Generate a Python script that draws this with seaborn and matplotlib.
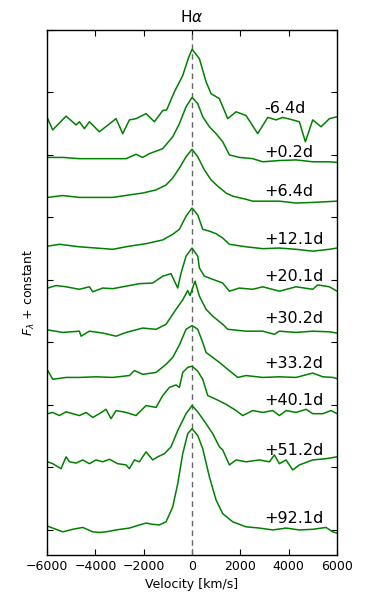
import numpy as np
import pandas as pd
import matplotlib
matplotlib.use("Agg")
import matplotlib.pyplot as plt
import seaborn as sns

# epochs (days) and vertical offsets of each spectrum
epochs = ["-6.4d", "+0.2d", "+6.4d", "+12.1d", "+20.1d", "+30.2d", "+33.2d", "+40.1d", "+51.2d", "+92.1d"]
offsets = [6.56, 5.94, 5.32, 4.54, 3.87, 3.18, 2.45, 1.86, 1.09, 0.03]
label_y = [6.74, 6.04, 5.41, 4.65, 4.06, 3.38, 2.66, 2.07, 1.27, 0.18]

# H-alpha profiles, velocity [km/s] and normalised flux above continuum
v_m64 = [-5975, -5770, -5216, -4800, -4664, -4457, -4250, -3836, -3146, -2870, -2594, -2318, -1904, -1559,
         -1214, -1050, -731, -386, -150, 0, 304, 580, 787, 1132, 1477, 1822, 2236, 2719, 3133, 3478, 3754,
         4168, 4444, 4692, 4996, 5341, 5686, 6000]
f_m64 = [0.02, -0.16, 0.06, -0.08, -0.03, -0.14, -0.03, -0.19, 0.02, -0.22, 0.0, 0.02, 0.10, -0.03,
         0.15, 0.16, 0.45, 0.71, 0.99, 1.13, 0.98, 0.61, 0.42, 0.34, 0.02, 0.13, 0.07, -0.22, 0.04, 0.0, 0.04,
         0.0, -0.03, -0.35, 0.0, -0.11, 0.02, 0.05]

v_p02 = [-5975, -5350, -4664, -3974, -3284, -2732, -2318, -2042, -1766, -1214, -800, -524, -248, 0, 235,
         442, 718, 994, 1270, 1546, 1960, 2512, 2926, 3616, 4306, 4996, 5686, 6000]
f_p02 = [0.02, 0.02, 0.0, 0.0, 0.0, 0.0, 0.07, 0.02, 0.08, 0.16, 0.35, 0.56, 0.83, 0.98, 0.88,
         0.67, 0.51, 0.40, 0.27, 0.06, 0.02, 0.0, -0.05, -0.03, -0.02, -0.05, -0.05, -0.06]

v_p64 = [-5975, -5354, -4664, -3974, -3284, -2594, -2042, -1490, -1076, -800, -524, -248, 0, 235, 511,
         787, 1063, 1408, 1684, 2236, 2512, 3616, 4306, 4996, 6000]
f_p64 = [0.0, 0.03, 0.0, 0.0, 0.0, 0.04, 0.07, 0.12, 0.20, 0.31, 0.47, 0.65, 0.77, 0.65, 0.44,
         0.28, 0.18, 0.07, 0.02, -0.03, -0.06, -0.06, -0.09, -0.08, -0.06]

v_p121 = [-5975, -5492, -4664, -3974, -3284, -2594, -1904, -1214, -800, -524, -248, 0, 235, 442, 718,
          994, 1270, 1546, 2236, 2926, 3616, 4306, 4996, 5686, 6000]
f_p121 = [0.0, 0.03, -0.01, -0.03, -0.05, 0.0, 0.04, 0.10, 0.19, 0.27, 0.48, 0.61, 0.50, 0.27, 0.24,
          0.20, 0.13, 0.03, -0.01, -0.04, -0.03, -0.05, -0.08, -0.05, -0.03]

v_p201 = [-5975, -5630, -5216, -4664, -4250, -4112, -3698, -3284, -2732, -2180, -1628, -1214, -869, -593,
          -455, -248, 0, 235, 304, 511, 856, 1270, 1546, 1960, 2512, 2926, 3616, 4306, 4996, 5203, 5686, 6000]
f_p201 = [0.0, 0.04, 0.02, -0.02, 0.02, -0.06, 0.0, -0.01, 0.03, 0.07, 0.08, 0.19, 0.23, 0.0,
          0.24, 0.51, 0.64, 0.51, 0.32, 0.19, 0.14, 0.08, -0.05, 0.0, -0.02, 0.02, -0.05, 0.02, -0.02, 0.05, 0.02, -0.05]

v_p302 = [-5975, -5354, -4664, -4595, -4250, -3698, -3146, -2732, -2042, -1490, -1076, -662, -386, -179,
          -83, 124, 304, 580, 856, 1270, 1477, 2236, 2926, 3409, 3616, 4306, 4996, 5686, 6000]
f_p302 = [0.02, -0.02, 0.0, -0.08, 0.0, -0.03, -0.08, -0.02, 0.05, 0.03, 0.11, 0.35, 0.50, 0.65,
          0.57, 0.80, 0.56, 0.35, 0.24, 0.11, 0.03, 0.0, 0.0, -0.05, 0.0, -0.02, 0.0, -0.01, -0.03]

v_p332 = [-5975, -5768, -5216, -4664, -3974, -3284, -2594, -2387, -2042, -1490, -1076, -800, -524, -248,
          0, 235, 442, 580, 856, 1132, 1477, 1891, 2236, 2926, 3616, 4306, 4996, 5410, 5824, 6000]
f_p332 = [0.10, -0.04, -0.01, -0.01, 0.0, -0.01, 0.02, 0.10, 0.04, 0.07, 0.20, 0.31, 0.51, 0.76,
          0.82, 0.76, 0.55, 0.39, 0.31, 0.23, 0.12, -0.01, 0.02, -0.01, 0.0, -0.01, 0.06, 0.0, -0.01, -0.03]

v_p401 = [-5975, -5768, -5492, -5216, -4940, -4664, -4388, -4112, -3836, -3560, -3353, -3146, -2732, -2318,
          -1904, -1490, -1214, -938, -662, -524, -386, -179, 0, 235, 442, 649, 994, 1408, 1822, 2098, 2512,
          2926, 3340, 3616, 3892, 4306, 4720, 4996, 5410, 5755, 6000]
f_p401 = [0.0, 0.02, -0.03, 0.03, 0.0, -0.03, 0.02, -0.06, 0.0, 0.07, -0.08, 0.05, 0.02, -0.03,
          0.13, 0.10, 0.29, 0.42, 0.46, 0.42, 0.66, 0.74, 0.76, 0.68, 0.55, 0.29, 0.23, 0.15, 0.05, -0.03, 0.05,
          0.02, 0.05, -0.03, 0.05, 0.02, 0.07, 0.0, 0.0, 0.05, 0.0]

v_p512 = [-5975, -5768, -5423, -5216, -5078, -4802, -4526, -4250, -3974, -3698, -3422, -3077, -2732, -2594,
          -2387, -2180, -1904, -1628, -1421, -1145, -869, -593, -248, 0, 235, 580, 856, 1132, 1270, 1546,
          1822, 2236, 2788, 3202, 3409, 3616, 3892, 4168, 4444, 4996, 5548, 6000]
f_p512 = [0.0, -0.03, -0.11, 0.08, 0.0, -0.02, 0.03, -0.03, 0.03, 0.0, 0.04, -0.03, -0.05, -0.11,
          0.03, 0.0, 0.16, 0.03, 0.08, 0.13, 0.24, 0.50, 0.77, 0.90, 0.80, 0.61, 0.45, 0.24, 0.19, -0.05,
          0.03, 0.0, 0.03, 0.0, 0.11, -0.03, 0.03, -0.13, -0.05, 0.03, 0.05, 0.08]

v_p921 = [-5975, -5768, -5354, -4940, -4526, -4112, -3836, -3560, -3146, -2594, -2180, -1904, -1628, -1352,
          -1076, -800, -593, -386, -179, 0, 235, 442, 718, 994, 1270, 1684, 2236, 2788, 3340, 3892, 4444,
          4996, 5548, 5824, 6000]
f_p921 = [0.03, 0.0, -0.06, -0.02, 0.01, -0.06, -0.07, -0.06, -0.03, 0.0, 0.05, 0.08, 0.06, 0.05,
          0.10, 0.34, 0.71, 1.19, 1.51, 1.59, 1.48, 1.27, 0.82, 0.45, 0.23, 0.10, 0.02, 0.0, -0.03, 0.0, -0.03,
          -0.02, 0.01, -0.06, -0.08]

velocities = [v_m64, v_p02, v_p64, v_p121, v_p201, v_p302, v_p332, v_p401, v_p512, v_p921]
fluxes = [f_m64, f_p02, f_p64, f_p121, f_p201, f_p302, f_p332, f_p401, f_p512, f_p921]

rows = []
for ep, off, vs, fs in zip(epochs, offsets, velocities, fluxes):
    for v, f in zip(vs, fs):
        rows.append({"epoch": ep, "velocity": v, "flux": f + off})
df = pd.DataFrame(rows)

sns.set_theme(style="ticks", rc={
    "xtick.direction": "in", "ytick.direction": "in",
    "xtick.top": True, "ytick.right": True,
    "xtick.major.size": 4, "ytick.major.size": 4,
    "axes.linewidth": 1.0, "axes.edgecolor": "black",
    "text.color": "black", "axes.labelcolor": "black",
    "xtick.color": "black", "ytick.color": "black",
})
plt.rcParams["font.family"] = ["DejaVu Sans"]

fig = plt.figure(figsize=(3.74, 5.98), dpi=100)
ax = fig.add_axes([0.126, 0.072, 0.775, 0.878])

ax.axvline(0, color="0.4", ls="--", lw=1, dashes=(4, 3), zorder=1)
sns.lineplot(data=df, x="velocity", y="flux", hue="epoch", palette={e: "green" for e in epochs},
             estimator=None, sort=False, legend=False, lw=1.1, ax=ax, zorder=2)

for ep, y in zip(epochs, label_y):
    ax.text(3000, y, ep, fontsize=11.5, va="center", ha="left", color="black")

ax.set_xlim(-6000, 6000)
ax.set_ylim(-0.4, 8.0)
ax.set_xticks(range(-6000, 6001, 2000))
ax.set_yticks(range(0, 9))
ax.set_yticklabels([])
ax.tick_params(labelsize=9, width=0.8, colors="black")
ax.set_xlabel("Velocity [km/s]", fontsize=9)
ax.set_ylabel(r"$F_\lambda$ + constant", fontsize=9)
ax.set_title(r"H$\alpha$", fontsize=11)

fig.savefig("out.png", dpi=100)
